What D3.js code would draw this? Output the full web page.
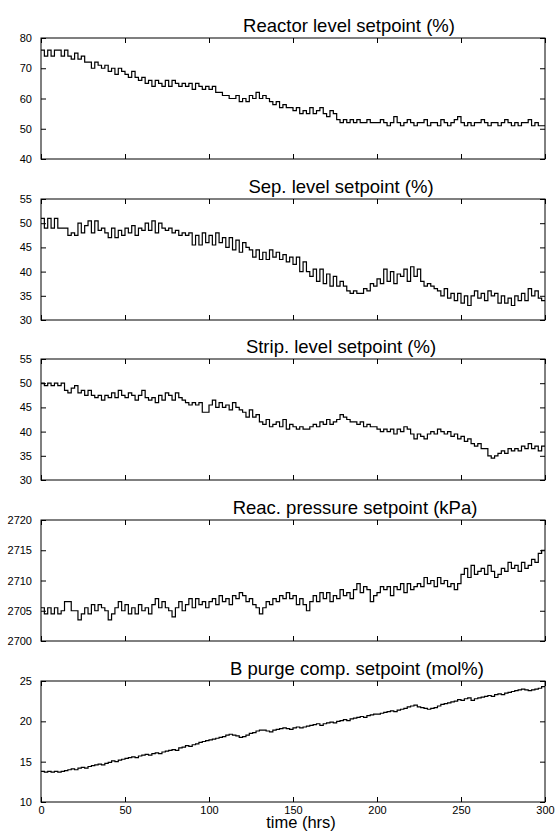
<!DOCTYPE html>
<html>
<head>
<meta charset="utf-8">
<script src="https://cdn.jsdelivr.net/npm/d3@7"></script>
<style>
  body { margin: 0; background: #fff; }
  svg text { font-family: "Liberation Sans", Arial, sans-serif; fill: #000; }
</style>
</head>
<body>
<div id="chart"></div>
<script>
// sampling interval of the setpoint series (hrs)
const STEP = 2;

const timeTicks = [0, 50, 100, 150, 200, 250, 300];

const titles = [
    "Reactor level setpoint (%)",
    "Sep. level setpoint (%)",
    "Strip. level setpoint (%)",
    "Reac. pressure setpoint (kPa)",
    "B purge comp. setpoint (mol%)"
];

const reactorTicks = [40, 50, 60, 70, 80];
const sepTicks = [30, 35, 40, 45, 50, 55];
const stripTicks = [30, 35, 40, 45, 50, 55];
const pressureTicks = [2700, 2705, 2710, 2715, 2720];
const purgeTicks = [10, 15, 20, 25];

const reactorLevel = [
    76, 74, 76, 74, 76, 76, 74, 76,
    74, 73, 75, 73, 74, 72,
    72, 70, 72, 71,
    70, 71, 69, 70, 68, 70, 69,
    68, 67, 69, 67, 66,
    67, 65, 66, 64, 66, 65, 64, 66,
    64, 66, 65, 64, 65,
    64, 65, 63, 65, 64, 63, 64,
    63, 64, 62, 62, 61,
    61, 60, 60, 61, 59, 60, 59, 61,
    60, 62, 60, 61, 60,
    59, 58, 59, 57, 58, 57, 57,
    56, 57, 55, 56, 55,
    57, 55, 56, 57, 55, 54, 56, 55,
    53, 52, 53, 52, 53,
    52, 53, 52, 52, 53, 52, 52,
    52, 53, 52, 51, 52, 54, 52, 51, 52, 53,
    52, 51, 52, 52, 53, 51, 52, 52, 51, 53,
    52, 51, 52, 53, 54, 52, 51, 52, 51, 52,
    52, 53, 52, 51, 52, 52, 51, 52, 53, 52,
    51, 52, 51, 52, 52, 53, 51, 52, 51, 51
];

const sepLevel = [
    51, 49, 51, 49, 51, 49,
    49, 49, 47.5, 48, 47.5,
    50, 48, 49.5,
    50.5, 48, 50.5, 48.5, 49,
    48, 47, 49, 47, 48.5, 47.5,
    49, 48, 49.5, 47.5, 49,
    48.5, 50, 48.5, 50.5, 48, 50, 49, 48.5,
    49, 48, 48.5, 47.5, 48, 47.5, 48,
    45.5, 47.5, 45.5, 48,
    46, 47.5, 45.5, 48, 46, 47,
    45, 47, 44.5, 46.5, 44, 46, 45, 44.5,
    43, 44.5, 42.5, 44, 42.5, 44.5, 43,
    44, 42.5, 43.5, 42, 43,
    41.5, 43, 40, 42, 40,
    39, 40.5, 38, 40.5, 37.5,
    39.5, 37, 39, 37, 38,
    37, 36, 35.5, 36, 35.5,
    35.5, 36.5, 36, 37.5, 37,
    38.5, 37.5, 40.5, 38, 40, 37.5, 39.5, 39,
    40.5, 38, 41, 39, 40.5,
    38, 37, 37.5, 37, 36.5,
    36, 35, 36.5, 34.5, 35.5,
    34, 35.5, 33.5, 35, 33,
    35, 36, 34.5, 35.5, 34, 36, 35, 35.5, 33.5, 35,
    33.5, 34.5, 33, 35, 34,
    35.5, 34, 36.5, 35, 36, 34.5, 34
];

const stripLevel = [
    50, 49.5, 50, 49.5, 50, 49.5, 50,
    48.5, 48, 49,
    49.5, 48, 48.5,
    47.5, 48.5, 47.5, 47, 47.5,
    46.5, 47.5,
    47, 48, 47, 48.5, 47.5, 47, 48, 47.5,
    46.5, 47.5, 48.5, 47, 46.5,
    47, 46, 47.5, 46.5, 48,
    47.5, 46.5, 48, 47, 46.5,
    46, 45.5, 46, 45.5, 46,
    44, 44,
    45.5, 46.5, 45, 46, 45,
    45.5, 44.5, 46, 45, 44.5,
    44, 43, 44.5, 43, 43.5,
    42, 41.5, 42.5, 41, 41.5,
    42, 41, 42.5, 40.5, 41.5,
    41, 40.5, 41, 40.5, 40.5,
    41, 41.5, 41, 42, 41.5, 42.5, 41.5, 42,
    42.5, 43.5, 43, 42.5, 42,
    42, 41.5, 42, 41, 41.5, 41, 41,
    40.5, 40, 40.5, 40, 40.5,
    39.5, 40.5, 40, 41, 40.5,
    39.5, 38.5, 39.5, 39, 38.5,
    39.5, 40, 39.5, 40.5, 40, 39.5, 40, 39,
    39.5, 38.5, 39, 38, 38.5,
    37.5, 37, 37.5, 36.5, 36.5,
    35, 34.5, 35,
    35.5, 36, 35.5, 36.5, 36, 36.5, 36, 37, 36.5,
    37.5, 36.5, 37, 36, 37
];

const reacPressure = [
    2705.5, 2704.5, 2705.5, 2704.5, 2705.5, 2704.5, 2705,
    2706.5, 2706.5,
    2705, 2705,
    2703.5, 2704.5,
    2705.5, 2704.5, 2706, 2705, 2706,
    2705.5, 2705,
    2703.5, 2704.5,
    2705.5, 2706.5, 2705, 2706, 2704.5, 2705.5,
    2704.5, 2706, 2705, 2705.5, 2704.5,
    2706, 2707, 2705.5, 2706.5, 2705.5,
    2705, 2704, 2705.5, 2706.5, 2705,
    2706, 2707, 2705.5, 2707, 2706, 2706.5, 2705.5,
    2706.5, 2707, 2706, 2707.5, 2706.5, 2707, 2706, 2707.5,
    2707, 2708, 2707.5, 2706.5, 2707,
    2706, 2705.5, 2704.5, 2705.5, 2706.5, 2706, 2707,
    2706.5, 2707.5, 2707, 2708, 2707,
    2707.5, 2706, 2707, 2706, 2705,
    2706.5, 2707.5, 2706.5, 2708, 2707, 2708, 2706.5, 2707.5,
    2707, 2708.5, 2707.5, 2708, 2707,
    2708.5, 2709.5, 2708, 2709, 2708.5,
    2706.5, 2707.5,
    2708, 2709, 2708.5, 2709, 2707.5, 2709, 2708.5, 2709.5,
    2708, 2709.5, 2708.5, 2709, 2709.5,
    2709, 2710.5, 2709.5, 2710, 2709, 2710.5, 2709.5,
    2710, 2709, 2709.5, 2708.5, 2709.5,
    2711, 2712, 2710.5, 2712.5, 2711, 2711.5,
    2712, 2711, 2712.5, 2711.5, 2710.5, 2711, 2712,
    2711.5, 2713, 2712, 2712.5, 2711.5, 2713, 2712,
    2712.5, 2713.5, 2713, 2714.5, 2715
];

const purgeComp = [
    13.8, 13.7, 13.8, 13.7, 13.8, 13.7, 13.8,
    13.9, 14.0, 14.1, 14.0, 14.2, 14.3, 14.2, 14.4,
    14.5, 14.6, 14.7, 14.6, 14.8, 14.9, 15.1, 15.0, 15.2, 15.3,
    15.4, 15.5, 15.6, 15.5, 15.7, 15.8, 15.9, 15.8, 16.0, 16.1,
    16.0, 16.2, 16.3, 16.4, 16.5, 16.4, 16.7, 16.8, 17.0, 16.9, 17.1, 17.2, 17.4, 17.5, 17.6,
    17.7, 17.8, 17.9, 18.0, 18.1, 18.3, 18.4, 18.3, 18.2, 18.0,
    18.1, 18.3, 18.5, 18.6, 18.8, 18.9, 18.9, 18.8, 18.7, 18.9,
    19.0, 19.1, 19.2, 19.1, 19.0, 19.2, 19.3, 19.2, 19.3, 19.4,
    19.5, 19.6, 19.7, 19.5, 19.7, 19.8, 19.9, 19.8, 20.0, 20.1,
    20.2, 20.1, 20.3, 20.4, 20.5, 20.6, 20.5, 20.7, 20.8, 20.9,
    20.9, 21.0, 21.1, 21.2, 21.3, 21.2, 21.4, 21.5, 21.6, 21.8,
    21.9, 22.0, 21.8, 21.7, 21.6, 21.5, 21.6, 21.7, 21.9, 22.1,
    22.2, 22.3, 22.4, 22.5, 22.7, 22.6, 22.8, 22.9, 22.6, 22.8,
    22.9, 23.0, 23.1, 23.2, 23.1, 23.3, 23.4, 23.3, 23.5, 23.6,
    23.7, 23.8, 23.9, 24.0, 23.9, 23.8, 23.9, 24.0, 24.1, 24.3
];

const width = 555;
const height = 831;
const left = 41, right = 545;
const panelTops = [38, 199, 359, 520, 681];
const panelH = 121;
const titleX = [349, 341, 341, 355, 357];
const fontFamily = "Liberation Sans, Arial, sans-serif";

const panels = [
    { values: reactorLevel, ticks: reactorTicks },
    { values: sepLevel, ticks: sepTicks },
    { values: stripLevel, ticks: stripTicks },
    { values: reacPressure, ticks: pressureTicks },
    { values: purgeComp, ticks: purgeTicks }
];

const svg = d3.select("#chart")
    .append("svg")
    .attr("width", width)
    .attr("height", height);

const xScale = d3.scaleLinear()
    .domain([0, 300])
    .range([left, right]);

panels.forEach((p, k) => {
    const top = panelTops[k];
    const bottom = top + panelH;
    const yScale = d3.scaleLinear()
        .domain(d3.extent(p.ticks))
        .range([bottom, top]);

    const g = svg.append("g");

    // clip so the trace stays inside the box
    g.append("clipPath")
        .attr("id", "clip" + k)
        .append("rect")
        .attr("x", left).attr("y", top)
        .attr("width", right - left).attr("height", panelH);

    // step trace, hold last value to t = 300
    const pts = p.values.map((v, i) => [i * STEP, v]);
    pts.push([p.values.length * STEP, p.values[p.values.length - 1]]);

    const line = d3.line()
        .x(d => xScale(d[0]))
        .y(d => yScale(d[1]))
        .curve(d3.curveStepAfter);

    g.append("path")
        .datum(pts)
        .attr("clip-path", `url(#clip${k})`)
        .attr("fill", "none")
        .attr("stroke", "#000")
        .attr("stroke-width", 1.2)
        .attr("d", line);

    // left axis with labels, inward ticks
    g.append("g")
        .attr("transform", `translate(${left},0)`)
        .call(d3.axisLeft(yScale).tickValues(p.ticks).tickFormat(d3.format("d"))
            .tickSizeInner(-5).tickSizeOuter(0).tickPadding(9))
        .call(a => a.select(".domain").remove())
        .call(a => a.selectAll("text").style("font-size", "11px").style("font-family", fontFamily));

    // right axis, ticks only
    g.append("g")
        .attr("transform", `translate(${right},0)`)
        .call(d3.axisRight(yScale).tickValues(p.ticks).tickSizeInner(-5).tickSizeOuter(0).tickFormat(""))
        .call(a => a.select(".domain").remove());

    // top axis, ticks only
    g.append("g")
        .attr("transform", `translate(0,${top})`)
        .call(d3.axisTop(xScale).tickValues(timeTicks).tickSizeInner(-5).tickSizeOuter(0).tickFormat(""))
        .call(a => a.select(".domain").remove());

    // bottom axis; labels only on the last panel
    const bottomAxis = d3.axisBottom(xScale).tickValues(timeTicks)
        .tickSizeInner(-5).tickSizeOuter(0).tickPadding(4);
    if (k < panels.length - 1) bottomAxis.tickFormat("");
    g.append("g")
        .attr("transform", `translate(0,${bottom})`)
        .call(bottomAxis)
        .call(a => a.select(".domain").remove())
        .call(a => a.selectAll("text").style("font-size", "11px").style("font-family", fontFamily));

    // box
    g.append("rect")
        .attr("x", left).attr("y", top)
        .attr("width", right - left).attr("height", panelH)
        .attr("fill", "none")
        .attr("stroke", "#000")
        .attr("stroke-width", 1);

    // title
    g.append("text")
        .attr("x", titleX[k])
        .attr("y", top - 6.5)
        .attr("text-anchor", "middle")
        .style("font-size", "18.5px")
        .text(titles[k]);
});

svg.append("text")
    .attr("x", 301)
    .attr("y", 827.5)
    .attr("text-anchor", "middle")
    .style("font-size", "16.5px")
    .text("time (hrs)");
</script>
</body>
</html>
